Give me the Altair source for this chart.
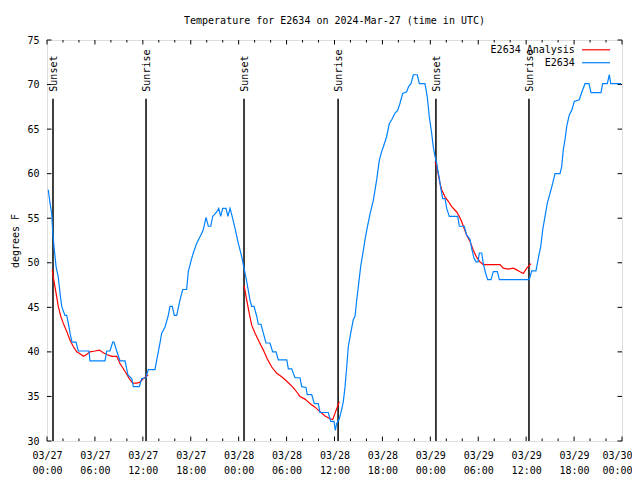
import altair as alt
import pandas as pd

# ---- data (hours since 2024-03-27 00:00 UTC) ----
blue_hours = [0.16,0.38,0.59,0.71,0.88,1.13,1.41,1.63,1.84,2.25,2.47,2.67,2.88,3.13,3.63,3.92,5.26,5.38,7.26,7.48,
              7.89,8.23,8.39,8.73,9.14,9.77,10.14,10.61,10.81,11.56,11.86,12.40,12.68,13.52,13.74,14.15,14.36,14.78,
              15.19,15.40,15.69,15.94,16.24,16.65,16.99,17.49,17.69,18.12,18.32,18.75,19.25,19.57,19.91,20.20,20.50,
              20.75,21.25,21.50,21.75,22.00,22.41,22.66,22.92,23.13,23.54,23.95,24.38,24.67,25.01,25.42,25.63,25.92,
              26.26,26.46,26.80,27.09,27.42,27.92,28.26,28.68,28.96,30.02,30.22,30.64,31.05,31.68,31.89,32.43,32.59,
              33.15,33.47,33.97,34.18,35.22,35.52,35.94,36.10,36.28,36.53,36.78,37.10,37.32,37.53,37.73,38.03,38.35,
              38.57,38.78,38.98,39.28,39.61,39.82,40.11,40.45,40.86,41.28,41.61,41.91,42.11,42.54,42.86,43.20,43.58,
              43.91,44.20,44.54,45.04,45.29,45.58,45.87,46.37,46.62,47.33,47.62,47.87,48.17,48.37,48.59,48.80,48.93,
              49.12,49.30,49.55,49.84,50.05,50.38,51.43,51.63,52.25,52.55,52.97,53.18,53.47,53.72,53.97,54.13,54.43,
              54.63,54.93,55.18,55.60,55.89,56.39,56.64,60.39,60.69,61.23,61.52,61.82,62.07,62.36,62.65,62.99,63.32,
              63.61,64.24,64.45,64.65,64.86,65.08,65.40,65.70,66.03,66.65,66.95,67.37,67.87,68.12,69.37,69.58,70.16,
              70.41,70.59,71.88]
blue_temps = [58.2,56.7,55.5,53.6,51.8,49.6,48.4,46.6,45.1,44.1,44.1,43.2,42.1,41.1,41.1,40.1,40.1,39.0,39.0,40.1,
              40.1,41.1,41.1,40.1,39.0,39.0,37.4,37.0,36.1,36.1,37.0,37.1,38.0,38.0,39.1,41.0,42.1,42.8,
              44.1,45.1,45.1,44.1,44.1,45.8,47.0,47.0,49.0,50.5,51.1,52.2,53.1,53.7,55.1,54.1,54.1,
              55.2,55.7,56.1,55.2,56.1,56.1,55.2,56.1,55.4,53.9,52.2,50.7,49.4,47.9,45.8,45.1,45.1,
              44.0,43.1,43.1,42.1,41.0,41.0,40.0,40.0,39.1,39.1,38.1,38.1,37.1,37.1,36.1,36.0,35.2,
              35.2,34.2,34.2,33.2,33.2,32.2,32.2,31.2,32.0,32.3,33.1,34.4,36.1,38.3,40.6,42.1,43.6,
              44.0,45.8,47.3,49.6,51.4,52.6,54.0,55.5,57.0,59.3,61.5,62.5,63.0,64.2,65.6,66.1,66.8,
              67.1,67.9,69.0,69.2,69.8,70.1,71.1,71.1,70.1,70.1,68.6,66.4,64.5,63.0,61.9,61.2,60.4,
              59.5,58.4,57.2,57.2,56.1,55.2,55.2,54.1,54.1,53.1,52.6,51.6,50.5,50.1,50.1,51.1,51.1,
              49.9,48.8,48.1,48.1,49.0,49.0,48.1,48.1,49.1,49.1,50.5,51.8,53.7,55.2,56.7,57.8,58.9,
              60.0,60.0,60.8,62.7,63.8,65.3,66.6,67.1,68.1,68.3,69.1,70.1,70.1,69.1,69.1,70.1,70.1,
              71.1,70.1,70.1]

red1_hours = [0.66,0.79,1.00,1.21,1.41,1.72,2.04,2.47,2.88,3.29,3.72,4.13,4.55,4.97,5.38,6.01,6.55,7.05,7.48,8.10,
              8.73,9.14,9.77,10.31,10.73,11.23,11.65,12.06,12.68]
red1_temps = [49.2,48.4,47.3,46.2,45.1,44.0,43.2,42.3,41.3,40.6,40.0,39.8,39.5,39.7,40.0,40.1,40.2,39.9,39.7,39.5,
              39.5,38.7,37.8,37.0,36.5,36.5,36.6,37.0,37.4]
red2_hours = [24.67,25.01,25.33,25.63,26.05,26.58,27.09,27.59,28.14,28.76,29.39,30.02,30.84,31.27,31.68,32.31,32.93,
              33.56,34.18,34.81,35.44,35.78,36.06,36.35,36.60]
red2_temps = [47.5,45.8,44.3,43.0,42.1,41.1,40.2,39.2,38.3,37.6,37.2,36.7,36.0,35.5,35.0,34.7,34.2,
              33.8,33.3,32.8,32.5,32.4,33.1,33.8,34.4]
red3_hours = [48.59,48.80,49.00,49.21,49.42,49.84,50.25,50.68,51.30,51.63,51.93,52.22,52.55,52.97,53.38,53.81,54.22,
              54.63,55.47,56.31,56.73,57.14,57.77,58.39,58.82,59.23,59.64,60.07,60.61]
red3_temps = [61.3,60.8,59.9,58.9,58.2,57.4,56.9,56.3,55.7,55.2,54.6,53.9,53.1,52.4,51.4,50.6,50.1,
              49.8,49.8,49.8,49.8,49.4,49.3,49.4,49.2,49.0,48.8,49.4,49.9]

sun_hours = [0.75, 12.40, 24.67, 36.45, 48.70, 60.35]
sun_labels = ["Sunset", "Sunrise", "Sunset", "Sunrise", "Sunset", "Sunrise"]

series_names = ["E2634 Analysis", "E2634"]
series_colors = ["#ff0000", "#0082ff"]

x_major = list(range(0, 73, 6))
x_minor = [h for h in range(0, 73, 2) if h % 6 != 0]
y_major = list(range(30, 76, 5))

FONT = "DejaVu Sans Mono"
YMIN, YMAX = 30, 75
XMIN, XMAX = 0, 72

# ---- tables ----
blue_df = pd.DataFrame({"h": blue_hours, "T": blue_temps})
red_df = pd.concat([
    pd.DataFrame({"h": red1_hours, "T": red1_temps, "seg": 1}),
    pd.DataFrame({"h": red2_hours, "T": red2_temps, "seg": 2}),
    pd.DataFrame({"h": red3_hours, "T": red3_temps, "seg": 3}),
])
sun_df = pd.DataFrame({"h": sun_hours, "label": sun_labels,
                       "T": [68.4] * len(sun_hours), "T2": [YMIN] * len(sun_hours),
                       "Tl": [69.2] * len(sun_hours)})

xscale = alt.Scale(domain=[XMIN, XMAX], nice=False, zero=False)
yscale = alt.Scale(domain=[YMIN, YMAX], nice=False, zero=False)

label_expr = ("[utcFormat(utc(2024,2,27,datum.value),'%m/%d'),"
              " utcFormat(utc(2024,2,27,datum.value),'%H:%M')]")
xaxis = alt.Axis(values=x_major, labelExpr=label_expr, tickSize=0, domain=False, grid=False,
                 title=None, labelFont=FONT, labelFontSize=10, labelColor="black",
                 labelPadding=9, labelLineHeight=15, labelBaseline="top", labelFlush=False,
                 labelOffset={"condition": {"test": f"datum.value == {XMAX}", "value": -5}, "value": 0})
yaxis = alt.Axis(values=y_major, tickSize=0, domain=False, grid=False, title="degrees F",
                 titleFont=FONT, titleFontSize=10, titleFontWeight="normal", titleColor="black",
                 labelFont=FONT, labelFontSize=10, labelColor="black", labelPadding=8, titlePadding=6)


def X(f="h"):
    return alt.X(f"{f}:Q", scale=xscale, axis=xaxis)


def Y(f="T"):
    return alt.Y(f"{f}:Q", scale=yscale, axis=yaxis)


blue = alt.Chart(blue_df).mark_line(color=series_colors[1], strokeWidth=1.2, interpolate="linear").encode(
    x=X(), y=Y())
red = alt.Chart(red_df).mark_line(color=series_colors[0], strokeWidth=1.2).encode(
    x=X(), y=Y(), detail="seg:N")

sun_rules = alt.Chart(sun_df).mark_rule(color="black", strokeWidth=1.5).encode(
    x=X(), y=Y(), y2="T2:Q")
sun_text = alt.Chart(sun_df).mark_text(angle=270, align="left", baseline="middle", dy=1,
                                       font=FONT, fontSize=10, color="black").encode(
    x=X(), y=Y("Tl"), text="label:N")

# legend (gnuplot style: label, then line sample), placed inside plot top-right
leg_df = pd.DataFrame({"name": series_names, "color": series_colors,
                       "T": [73.9, 72.45], "hx": [66.1] * 2, "h1": [67.0] * 2, "h2": [70.5] * 2})
leg_text = alt.Chart(leg_df).mark_text(align="right", baseline="middle", font=FONT, fontSize=10,
                                       color="black").encode(
    x=X("hx"), y=Y(), text="name:N")
leg_lines = alt.Chart(leg_df).mark_rule(strokeWidth=1.2).encode(
    x=X("h1"), x2="h2:Q", y=Y(), color=alt.Color("color:N", scale=None))

# inward tick marks on all four sides
xt = []
for h in x_major:
    xt += [(h, YMIN, YMIN + 0.5), (h, YMAX, YMAX - 0.5)]
for h in x_minor:
    xt += [(h, YMIN, YMIN + 0.28), (h, YMAX, YMAX - 0.28)]
xt_df = pd.DataFrame(xt, columns=["h", "T", "T2"])
yt = []
for t in y_major:
    yt += [(XMIN, XMIN + 0.56, t), (XMAX, XMAX - 0.56, t)]
yt_df = pd.DataFrame(yt, columns=["h", "h2", "T"])
xticks = alt.Chart(xt_df).mark_rule(color="black", strokeWidth=1).encode(x=X(), y=Y(), y2="T2:Q")
yticks = alt.Chart(yt_df).mark_rule(color="black", strokeWidth=1).encode(x=X(), x2="h2:Q", y=Y())

chart = alt.layer(xticks, yticks, sun_rules, sun_text, red, blue, leg_text, leg_lines).properties(
    width=575, height=401,
    title=alt.Title("Temperature for E2634 on 2024-Mar-27 (time in UTC)", font=FONT, fontSize=10,
                    fontWeight="normal", color="black", anchor="middle", offset=9),
    autosize=alt.AutoSizeParams(type="none"),
    padding={"left": 39, "top": 32, "right": 10, "bottom": 38},
).configure_view(stroke="black", strokeWidth=1).configure(background="white")

chart.save("out.html", embed_options={"renderer": "svg", "actions": False})
